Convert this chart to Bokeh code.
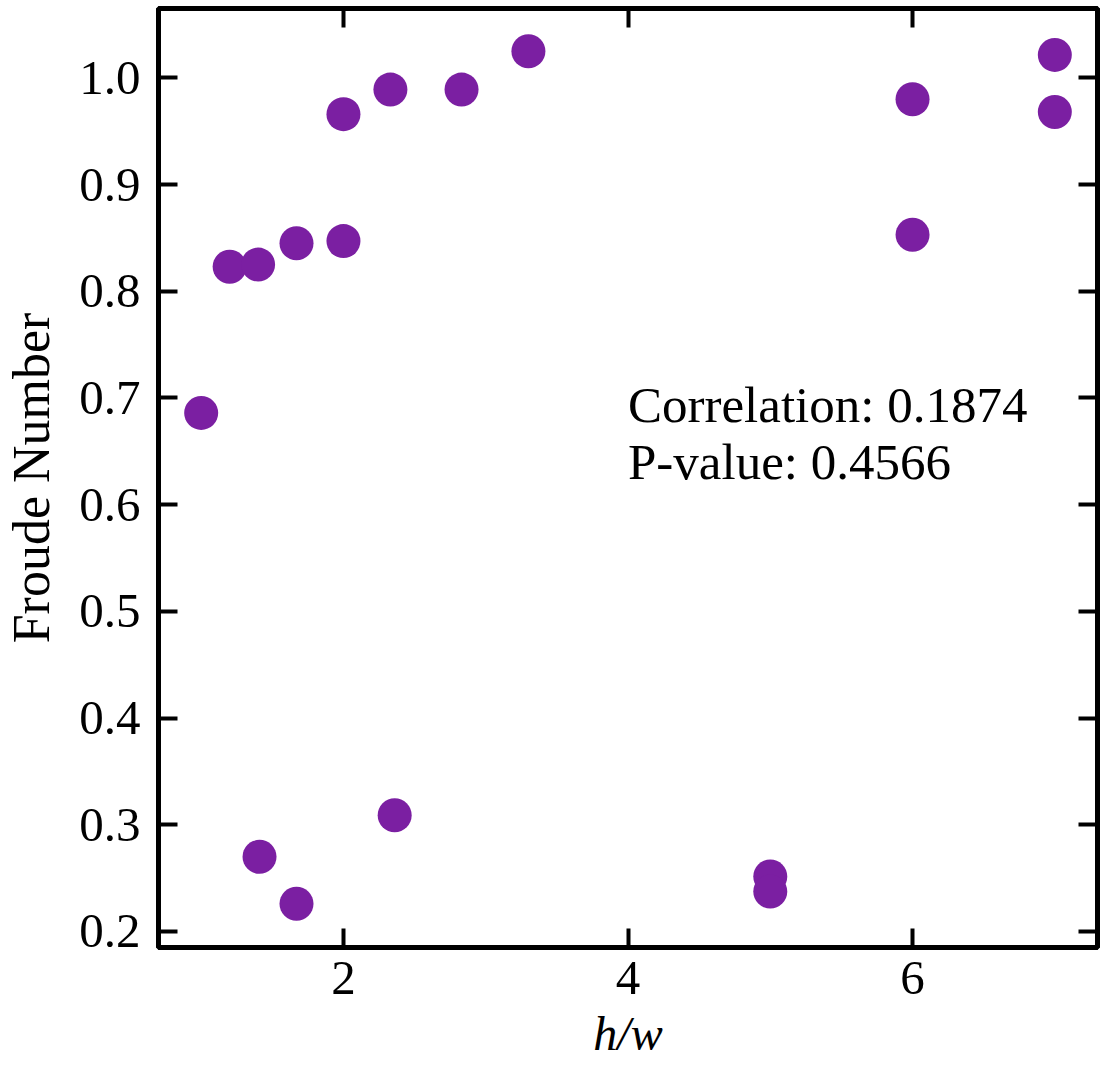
from bokeh.plotting import figure
from bokeh.models import LinearAxis, FixedTicker, NumeralTickFormatter, Label, Range1d, ColumnDataSource
from bokeh.embed import file_html
from bokeh.resources import INLINE

# Data
h_over_w = [1.0, 1.2, 1.4, 1.67, 2.0, 2.0, 2.33, 2.83, 3.3, 6.0, 6.0, 7.0, 7.0, 1.41, 1.67, 2.36, 5.0, 5.0]
froude = [0.686, 0.823, 0.825, 0.845, 0.847, 0.966, 0.989, 0.989, 1.025, 0.980, 0.853, 1.0215, 0.968, 0.270, 0.226, 0.309, 0.2515, 0.2374]
x_ticks = [2, 4, 6]
y_ticks = [0.2, 0.3, 0.4, 0.5, 0.6, 0.7, 0.8, 0.9, 1.0]
correlation_text = "Correlation: 0.1874"
pvalue_text = "P-value: 0.4566"

FONT = "Liberation Serif"
COLOR = "#7b1fa2"

p = figure(width=1100, height=1066, output_backend="svg", toolbar_location=None,
           x_range=Range1d(0.7, 7.3), y_range=Range1d(0.185, 1.065),
           min_border_left=158, min_border_right=3, min_border_top=8, min_border_bottom=119)

p.xgrid.visible = False
p.ygrid.visible = False
p.outline_line_color = "black"
p.outline_line_width = 5
p.background_fill_color = "white"
p.border_fill_color = "white"

src = ColumnDataSource(dict(x=h_over_w, y=froude))
p.scatter("x", "y", source=src, size=34, fill_color=COLOR, line_color=None)


def style_axis(ax, ticks, show_labels=True, standoff=15):
    ax.ticker = FixedTicker(ticks=ticks)
    ax.axis_line_width = 5
    ax.axis_line_color = "black"
    ax.major_tick_in = 19
    ax.major_tick_out = 0
    ax.major_tick_line_width = 4
    ax.minor_tick_line_color = None
    ax.major_label_text_font = FONT
    if show_labels:
        ax.major_label_text_color = "black"
        ax.major_label_text_font_size = "49px"
        ax.major_label_standoff = standoff
    else:
        ax.major_label_text_color = None
        ax.major_label_text_font_size = "1px"
        ax.major_label_standoff = 0


xa = p.xaxis[0]
style_axis(xa, x_ticks, standoff=14)
xa.axis_label = "h/w"
xa.axis_label_text_font = FONT
xa.axis_label_text_color = "black"
xa.axis_label_text_font_style = "italic"
xa.axis_label_text_font_size = "48px"
xa.axis_label_standoff = 10

ya = p.yaxis[0]
style_axis(ya, y_ticks, standoff=18)
ya.formatter = NumeralTickFormatter(format="0.0")
ya.axis_label = "Froude Number"
ya.axis_label_text_font = FONT
ya.axis_label_text_color = "black"
ya.axis_label_text_font_style = "normal"
ya.axis_label_text_font_size = "52px"
ya.axis_label_standoff = 16

top_ax = LinearAxis()
style_axis(top_ax, x_ticks, show_labels=False)
p.add_layout(top_ax, "above")

right_ax = LinearAxis()
style_axis(right_ax, y_ticks, show_labels=False)
p.add_layout(right_ax, "right")

p.add_layout(Label(x=4.0, y=0.693, text=correlation_text, text_font=FONT,
                   text_font_size="51px", text_color="black", text_baseline="alphabetic"))
p.add_layout(Label(x=4.0, y=0.640, text=pvalue_text, text_font=FONT,
                   text_font_size="51px", text_color="black", text_baseline="alphabetic"))

open("out.html", "w").write(file_html(p, INLINE))
